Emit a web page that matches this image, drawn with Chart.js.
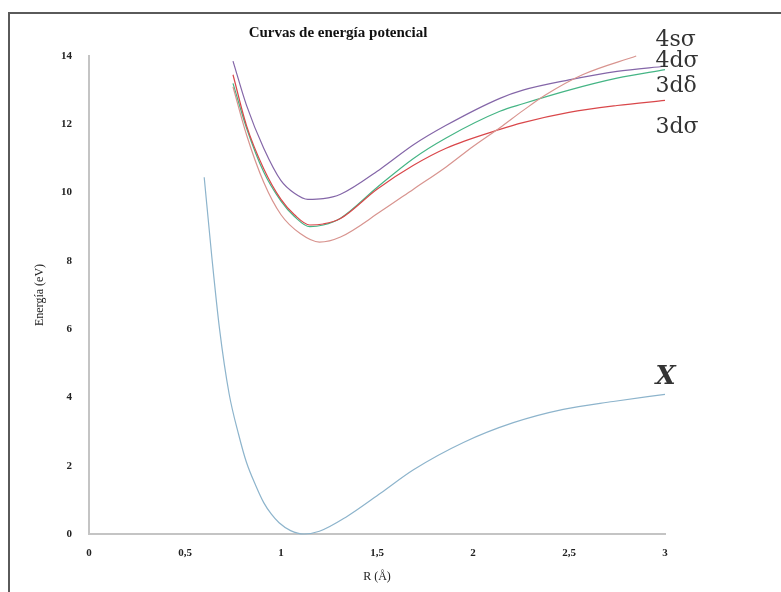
<!DOCTYPE html>
<html>
<head>
<meta charset="utf-8">
<script src="https://cdn.jsdelivr.net/npm/chart.js@4"></script>
<style>
  html, body { margin: 0; padding: 0; background: #fff; }
  #wrap { width: 781px; height: 592px; }
</style>
</head>
<body>
<div id="wrap"><canvas id="pec"></canvas></div>
<script>
// Potential energy curves, distance R in angstrom vs energy in eV
const xTicks = [0, 0.5, 1, 1.5, 2, 2.5, 3];
const yTicks = [0, 2, 4, 6, 8, 10, 12, 14];

// ground state X
const rX = [0.6, 0.64, 0.68, 0.73, 0.78, 0.82, 0.87, 0.91, 0.95, 0.99, 1.05, 1.12, 1.2, 1.34, 1.52, 1.69, 1.95, 2.21, 2.47, 2.73, 3.0];
const eX = [10.45, 8.1, 6.0, 4.1, 2.9, 2.1, 1.4, 0.92, 0.58, 0.33, 0.1, 0.0, 0.08, 0.5, 1.2, 1.88, 2.68, 3.26, 3.65, 3.88, 4.09];

// 4d sigma (purple)
const r4d = [0.75, 0.82, 0.91, 1.0, 1.07, 1.14, 1.22, 1.31, 1.52, 1.69, 1.86, 2.14, 2.26, 2.5, 2.75, 3.0];
const e4d = [13.85, 12.56, 11.3, 10.35, 9.98, 9.8, 9.82, 9.95, 10.7, 11.4, 11.97, 12.76, 13.0, 13.3, 13.55, 13.7];

// 3d delta (green) and 3d sigma (red)
const r3d = [0.75, 0.82, 0.91, 1.0, 1.07, 1.15, 1.22, 1.31, 1.5, 1.69, 1.86, 2.14, 2.26, 2.5, 2.75, 3.0];
const e3dDelta = [13.2, 11.9, 10.6, 9.75, 9.3, 9.0, 9.05, 9.25, 10.15, 11.0, 11.6, 12.38, 12.6, 13.0, 13.35, 13.6];
const e3dSigma = [13.45, 11.97, 10.7, 9.8, 9.35, 9.05, 9.08, 9.24, 10.1, 10.8, 11.3, 11.85, 12.05, 12.35, 12.55, 12.7];

// 4s sigma (pink)
const r4s = [0.75, 0.82, 0.91, 1.0, 1.1, 1.2, 1.31, 1.52, 1.69, 1.86, 2.0, 2.14, 2.26, 2.375, 2.57, 2.85];
const e4s = [13.1, 11.7, 10.3, 9.35, 8.8, 8.55, 8.7, 9.45, 10.1, 10.75, 11.35, 11.9, 12.4, 12.85, 13.45, 14.0];

// curve labels: [text, R, E, font]
const curveLabels = [
  ['4s\u03c3', 2.95, 14.45, '22px "DejaVu Serif"'],
  ['4d\u03c3', 2.95, 13.85, '22px "DejaVu Serif"'],
  ['3d\u03b4', 2.95, 13.1, '22px "DejaVu Serif"'],
  ['3d\u03c3', 2.95, 11.9, '22px "DejaVu Serif"'],
  ['X', 2.95, 4.6, 'italic bold 26px "DejaVu Serif"']
];

const toPoints = (xs, ys) => xs.map((x, i) => ({ x: x, y: ys[i] }));

const curve = (label, xs, ys, color) => ({
  label: label,
  data: toPoints(xs, ys),
  borderColor: color,
  borderWidth: 1.2,
  pointRadius: 0,
  showLine: true,
  cubicInterpolationMode: 'monotone',
  clip: false
});

// frame, title and curve names
const decorations = {
  id: 'decorations',
  beforeDraw(chart) {
    const ctx = chart.ctx;
    ctx.save();
    ctx.strokeStyle = '#5a5a5a';
    ctx.lineWidth = 2;
    ctx.beginPath();
    ctx.moveTo(9, 592);
    ctx.lineTo(9, 13);
    ctx.lineTo(781, 13);
    ctx.stroke();
    ctx.restore();
  },
  afterDraw(chart) {
    const ctx = chart.ctx;
    const xs = chart.scales.x, ys = chart.scales.y;
    ctx.save();
    ctx.fillStyle = '#111';
    ctx.font = 'bold 15px "Liberation Serif"';
    ctx.textAlign = 'center';
    ctx.textBaseline = 'middle';
    ctx.fillText('Curvas de energía potencial', 338, 33);
    ctx.fillStyle = '#333';
    ctx.textAlign = 'left';
    curveLabels.forEach(([t, r, e, f]) => {
      ctx.font = f;
      ctx.fillText(t, xs.getPixelForValue(r), ys.getPixelForValue(e));
    });
    ctx.restore();
  }
};

const tickFont = { family: '"Liberation Serif"', size: 11, weight: 'bold' };
const titleFont = { family: '"Liberation Serif"', size: 12 };

new Chart(document.getElementById('pec').getContext('2d'), {
  type: 'scatter',
  data: {
    datasets: [
      curve('X', rX, eX, '#8db4cc'),
      curve('4s\u03c3', r4s, e4s, '#d8948f'),
      curve('3d\u03c3', r3d, e3dSigma, '#d9474a'),
      curve('3d\u03b4', r3d, e3dDelta, '#45b585'),
      curve('4d\u03c3', r4d, e4d, '#8466a8')
    ]
  },
  options: {
    responsive: true,
    maintainAspectRatio: false,
    animation: false,
    layout: { padding: { left: 0, right: 116, top: 56, bottom: 0 } },
    plugins: {
      legend: { display: false },
      tooltip: { enabled: false }
    },
    scales: {
      x: {
        type: 'linear',
        min: 0,
        max: 3,
        afterBuildTicks: (s) => { s.ticks = xTicks.map(v => ({ value: v })); },
        afterFit: (s) => { s.height = 58; },
        ticks: {
          color: '#222',
          font: tickFont,
          padding: 5,
          callback: (v) => String(v).replace('.', ',')
        },
        grid: { display: false },
        border: { display: true, color: '#c4c4c4', width: 2 },
        title: {
          display: true,
          text: 'R (Å)',
          color: '#222',
          font: titleFont,
          padding: { top: 4, bottom: 8 }
        }
      },
      y: {
        min: 0,
        max: 14,
        afterBuildTicks: (s) => { s.ticks = yTicks.map(v => ({ value: v })); },
        afterFit: (s) => { s.width = 89; },
        ticks: { color: '#222', font: tickFont, padding: 9 },
        grid: { display: false },
        border: { display: true, color: '#c4c4c4', width: 2 },
        title: {
          display: true,
          text: 'Energía (eV)',
          color: '#222',
          font: titleFont,
          padding: { top: 33, bottom: 33 }
        }
      }
    }
  },
  plugins: [decorations]
});
</script>
</body>
</html>
